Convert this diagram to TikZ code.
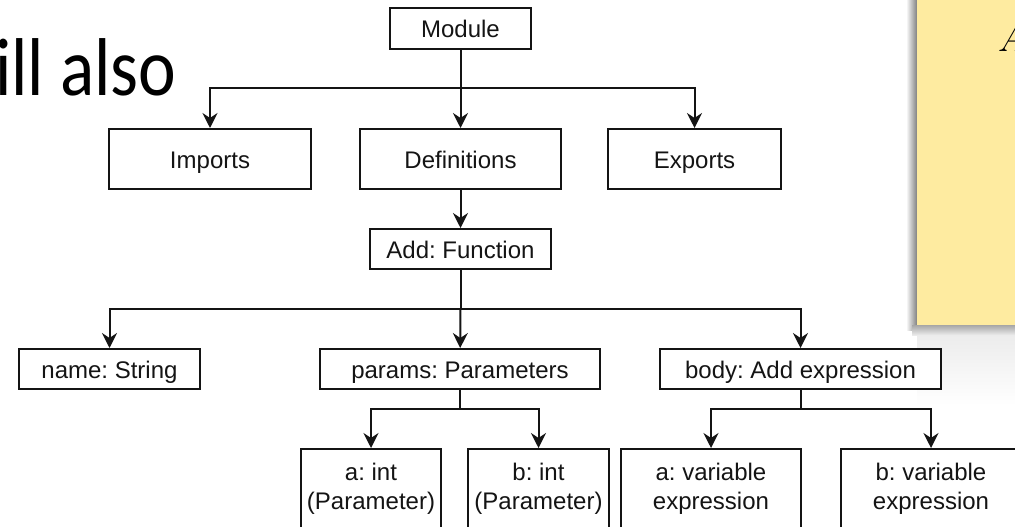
\documentclass[tikz,border=0pt]{standalone}
\usepackage{fontspec}
\setsansfont{Liberation Sans}
\newfontfamily\slidefont{Carlito}
\usepackage{xcolor}
\usepackage{tikz}
\usetikzlibrary{arrows.meta,positioning,calc}
\definecolor{notec}{HTML}{FEEBA0}
\definecolor{linec}{HTML}{141414}
\frenchspacing

\begin{document}
\begin{tikzpicture}[x=100pt, y=-100pt,
  font=\sffamily\fontsize{24}{29}\selectfont,
  b/.style={rectangle, draw=linec, line width=2pt, fill=white, text=linec,
            align=center, inner sep=0pt, minimum height=40pt},
  one/.style={b, text height=19pt, text depth=0pt},
  arr/.style={-{Stealth[length=15pt, width=15pt, inset=5pt]}, line width=2pt, draw=linec},
  ln/.style={-, line width=2pt, draw=linec}]
\useasboundingbox (0,0) rectangle (10.15,5.27);
\clip (0,0) rectangle (10.15,5.27);
% slide behind the diagram
\node[anchor=base west, inner sep=0pt, xscale=0.87,
      font=\slidefont\fontsize{82}{90}\selectfont]
     (slidetxt) at (-0.05,0.96) {ill also};
\shade[left color=white, right color=black!50] (9.06,-0.1) rectangle (9.17,3.3);
\shade[top color=black!8, bottom color=white] (9.17,3.3) rectangle (10.2,4.05);
\shade[top color=black!35, bottom color=black!8] (9.12,3.25) rectangle (10.2,3.35);
\fill[notec] (9.17,-0.1) rectangle (10.2,3.25);
\node[anchor=base west, inner sep=0pt, font=\rmfamily\itshape\fontsize{40}{48}\selectfont]
     (note) at (9.97,0.52) {A};
% tree
\node[one, minimum width=141pt, minimum height=41pt] (module) at (4.605,0.285) {Module};
\node[one, minimum width=202pt, minimum height=60pt] (imports) at (2.10,1.59) {Imports};
\node[one, minimum width=201pt, minimum height=60pt] (defs) at (4.605,1.59) {Definitions};
\node[one, minimum width=173pt, minimum height=60pt] (exports) at (6.945,1.59) {Exports};
\node[one, minimum width=181pt] (addfn) at (4.605,2.49) {Add: Function};
\node[one, minimum width=181pt] (name) at (1.095,3.69) {name: String};
\node[one, minimum width=280pt] (params) at (4.60,3.69) {params: Parameters};
\node[one, minimum width=281pt] (body) at (8.005,3.69) {body: Add expression};
\node[b, minimum width=140pt, minimum height=80pt] (pa) at (3.71,4.89) {a: int\\(Parameter)};
\node[b, minimum width=141pt, minimum height=80pt] (pb) at (5.385,4.89) {b: int\\(Parameter)};
\node[b, minimum width=180pt, minimum height=80pt] (va) at (7.11,4.89) {a: variable\\expression};
\node[b, minimum width=180pt, minimum height=80pt] (vb) at (9.31,4.89) {b: variable\\expression};
\coordinate (j1) at (4.605,0.88);
\coordinate (j2) at (4.605,3.09);
\coordinate (j3) at (4.60,4.09);
\coordinate (j4) at (8.005,4.09);
\draw[ln] (module) -- (j1);
\draw[arr] (j1) -| (imports);
\draw[arr] (j1) -- (defs);
\draw[arr] (j1) -| (exports);
\draw[arr] (defs) -- (addfn);
\draw[ln] (addfn) -- (j2);
\draw[arr] (j2) -| (name);
\draw[arr] (j2) -- (params);
\draw[arr] (j2) -| (body);
\draw[ln] (params) -- (j3);
\draw[arr] (j3) -| (pa);
\draw[arr] (j3) -| (pb);
\draw[ln] (body) -- (j4);
\draw[arr] (j4) -| (va);
\draw[arr] (j4) -| (vb);
\end{tikzpicture}
\end{document}
